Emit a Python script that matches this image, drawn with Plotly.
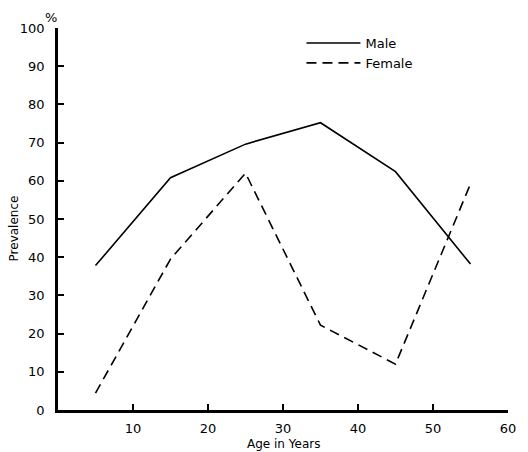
import plotly.graph_objects as go

# Prevalence (%) by age group
ages = [5, 15, 25, 35, 45, 55]
male = [37.8, 60.8, 69.6, 75.2, 62.4, 38.2]
female = [4.4, 39.5, 62.0, 22.2, 12.0, 59.2]

x_ticks = [10, 20, 30, 40, 50, 60]
y_ticks = [0, 10, 20, 30, 40, 50, 60, 70, 80, 90, 100]

font_family = "DejaVu Sans"

fig = go.Figure()
fig.add_trace(go.Scatter(
    x=ages, y=male, mode="lines", name="Male",
    line=dict(color="black", width=1.6),
))
fig.add_trace(go.Scatter(
    x=ages, y=female, mode="lines", name="Female",
    line=dict(color="black", width=1.6, dash="10px,6px"),
))

axis_common = dict(
    showgrid=False, zeroline=False, showline=True,
    linecolor="black", linewidth=2.5,
    ticks="inside", ticklen=6, tickwidth=1.5, tickcolor="black",
    tickfont=dict(family=font_family, size=13, color="black"),
)

fig.update_layout(
    width=528, height=452,
    margin=dict(l=58, r=12, t=28, b=42),
    paper_bgcolor="white", plot_bgcolor="white",
    xaxis=dict(range=[0, 60], tickvals=x_ticks, ticklabelstandoff=5, **axis_common),
    yaxis=dict(range=[0, 100], tickvals=y_ticks, ticklabelstandoff=8, **axis_common),
    showlegend=True,
    legend=dict(
        x=0.541, y=1.0, xanchor="left", yanchor="top",
        bgcolor="rgba(0,0,0,0)", itemwidth=54,
        font=dict(family=font_family, size=13, color="black"),
    ),
    annotations=[
        dict(text="Age in Years", xref="paper", yref="paper", x=0.5, y=-0.09,
             xanchor="center", yanchor="middle", showarrow=False,
             font=dict(family=font_family, size=12, color="black")),
        dict(text="Prevalence", xref="paper", yref="paper", x=-0.098, y=0.475,
             xanchor="center", yanchor="middle", showarrow=False, textangle=-90,
             font=dict(family=font_family, size=12, color="black")),
        dict(text="%", xref="paper", yref="paper", x=-0.015, y=1.028,
             xanchor="center", yanchor="middle", showarrow=False,
             font=dict(family=font_family, size=13, color="black")),
    ],
)

fig.write_html("out.html")
